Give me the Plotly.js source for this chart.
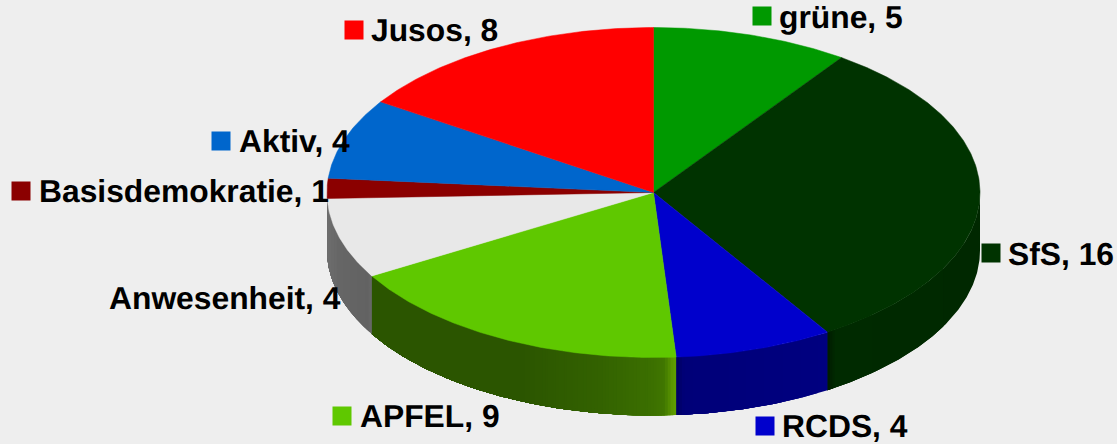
<!DOCTYPE html>
<html><head><meta charset="utf-8">
<script src="https://cdn.plot.ly/plotly-3.0.1.min.js"></script>
<style>html,body{margin:0;padding:0;background:#eeeeee}#c{width:1117px;height:444px}
svg text{font-kerning:normal;text-rendering:geometricPrecision}</style>
</head><body><div id="c"></div>
<script>
// Data
const categories = ["grüne","SfS","RCDS","APFEL","Anwesenheit","Basisdemokratie","Aktiv","Jusos"];
const values = [5,16,4,9,4,1,4,8];
// Styles
const topColors = ["#009900","#003300","#0000cc","#5fc800","#e8e8e8","#8b0000","#0066cc","#ff0000"];
const sideStops = [
  [],
  [[828,"#001c00"],[836,"#002a00"],[980,"#002800"]],
  [[676,"#000060"],[684,"#000078"],[827,"#000080"]],
  [[372,"#2b5500"],[520,"#2b5500"],[600,"#336200"],[650,"#3b6f00"],[664,"#407600"],[672,"#5a9600"],[676,"#60a000"]],
  [[327,"#6e6e6e"],[340,"#666666"],[368,"#626262"],[372,"#6a6a6a"]],
  [],[],[]
];
const showKey = [true,true,true,true,false,true,true,true];
const keyX = [762,991,765,342,null,21,221,354];
const keyY = [16,253,426,416,null,191,141,30];
const textX = [779,1008,782,360,109,39,239,371];
const textY = [17,254,426,416,298,191,141,30];
// Geometry (pixel-mapped axes)
const cx=653.5, cy=192.5, rx=326.5, ry=165, depth=58;
const rad=d=>d*Math.PI/180;
// small correction for the chart's 3D projection of the slice angles
const warp=t=>t-0.45*Math.sin(rad(t/2));
const px=t=>cx+rx*Math.sin(rad(t));
const py=t=>cy-ry*Math.cos(rad(t));
const total=values.reduce((a,b)=>a+b,0);
const traces=[];
function poly(xs,ys,color,w){
  traces.push({type:"scatter",mode:"lines",x:xs,y:ys,fill:"toself",fillcolor:color,
    line:{color:color,width:w},hoverinfo:"skip",showlegend:false});
}
function hex(c){return [1,3,5].map(i=>parseInt(c.substr(i,2),16));}
function colorAt(stops,x){
  if(x<=stops[0][0])return stops[0][1];
  for(let i=1;i<stops.length;i++){
    if(x<=stops[i][0]){
      const f=(x-stops[i-1][0])/(stops[i][0]-stops[i-1][0]);
      const a=hex(stops[i-1][1]),b=hex(stops[i][1]);
      return "rgb("+a.map((v,k)=>Math.round(v+(b[k]-v)*f)).join(",")+")";
    }
  }
  return stops[stops.length-1][1];
}
// side walls: each band runs on to the far end of its wall and the next band paints over it
let a=0; const angles=values.map(v=>{const s=a;a+=v/total*360;return [warp(s),warp(a)];});
angles.forEach(([s,e],i)=>{
  const lo=Math.max(s,90), hi=Math.min(e,270);
  if(hi<=lo||!sideStops[i].length)return;
  const n=Math.ceil((hi-lo)/0.5);
  let last=null;
  for(let k=0;k<n;k++){
    const t0=lo+(hi-lo)*k/n, tm=t0+(hi-lo)/n/2;
    const col=colorAt(sideStops[i],px(tm));
    if(col===last)continue;
    last=col;
    const xs=[],ys=[];
    const m=Math.ceil((hi-t0)/0.5);
    for(let j=0;j<=m;j++){const t=t0+(hi-t0)*j/m;xs.push(px(t));ys.push(py(t));}
    for(let j=m;j>=0;j--){const t=t0+(hi-t0)*j/m;xs.push(px(t));ys.push(py(t)+depth);}
    xs.push(xs[0]);ys.push(ys[0]);
    poly(xs,ys,col,0);
  }
});
// top wedges
angles.forEach(([s,e],i)=>{
  const xs=[cx],ys=[cy];
  const n=Math.ceil((e-s)/0.5);
  for(let k=0;k<=n;k++){const t=s+(e-s)*k/n;xs.push(px(t));ys.push(py(t));}
  xs.push(cx);ys.push(cy);
  poly(xs,ys,topColors[i],0.5);
});
// legend keys
categories.forEach((c,i)=>{
  if(!showKey[i])return;
  traces.push({type:"scatter",mode:"markers",x:[keyX[i]],y:[keyY[i]],
    marker:{symbol:"square",size:19,color:topColors[i],line:{width:0}},hoverinfo:"skip",showlegend:false});
});
const annotations=categories.map((c,i)=>({x:textX[i],y:textY[i],xref:"x",yref:"y",xanchor:"left",yanchor:"middle",
  text:"<b>"+c+", "+values[i]+"</b>",showarrow:false,xshift:-1,borderpad:0,
  font:{family:"Liberation Sans",size:31.8,color:"#000000"}}));
Plotly.newPlot("c",traces,{width:1117,height:444,margin:{l:0,r:0,t:0,b:0},
  paper_bgcolor:"#eeeeee",plot_bgcolor:"#eeeeee",showlegend:false,
  xaxis:{range:[0,1117],visible:false,fixedrange:true},
  yaxis:{range:[444,0],visible:false,fixedrange:true},
  annotations},{displayModeBar:false,staticPlot:true});
</script></body></html>
